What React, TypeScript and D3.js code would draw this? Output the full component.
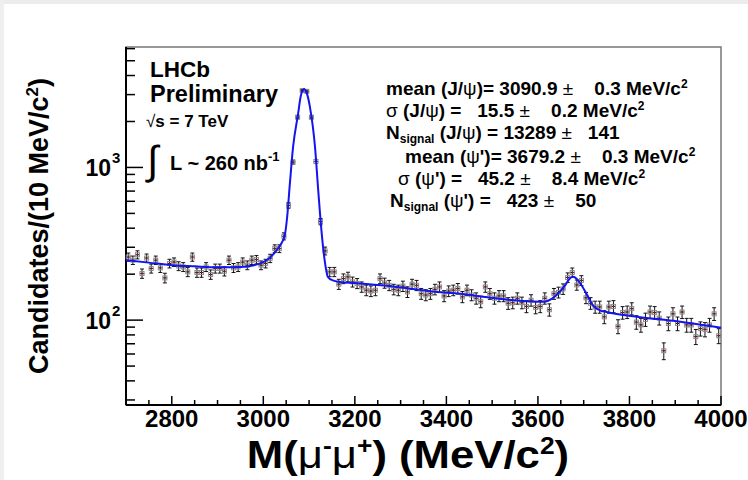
import React from 'react';
import * as d3 from 'd3';

// dimuon mass spectrum, 10 MeV bins
const massBins = d3.range(2705, 4000, 10);
const counts = [
  259, 247, 268, 202, 255, 218, 247, 220, 189, 235,
  240, 226, 223, 207, 259, 205, 205, 223, 199, 218,
  218, 209, 247, 220, 223, 240, 229, 247, 249, 229,
  235, 254, 294, 294, 354, 564, 1084, 2133, 3185, 3150,
  2133, 1094, 442, 284, 207, 207, 172, 187, 192, 178,
  174, 165, 157, 155, 157, 187, 175, 169, 159, 157,
  167, 153, 172, 169, 149, 146, 149, 159, 165, 144,
  155, 157, 161, 142, 157, 146, 139, 132, 165, 149,
  139, 144, 144, 129, 130, 139, 130, 123, 135, 121,
  123, 139, 117, 149, 152, 160, 190, 205, 170, 182,
  140, 129, 122, 122, 105, 122, 123, 91, 112, 113,
  119, 97, 93, 101, 113, 112, 103, 63, 95, 110,
  95, 113, 93, 93, 78, 88, 87, 93, 110, 79,
];

// fitted curve
const fitMass = [
  2700, 2750, 2800, 2850, 2900, 2950, 2980, 3000, 3015, 3030,
  3040, 3047, 3052, 3058, 3065, 3076, 3082, 3089, 3096, 3102,
  3113, 3120, 3127, 3134, 3141, 3152, 3167, 3200, 3270, 3380,
  3430, 3490, 3560, 3615, 3630, 3645, 3659, 3670, 3677, 3685,
  3692, 3706, 3720, 3735, 3750, 3820, 3895, 4000,
];
const fitVal = [
  247, 238, 229, 225, 222, 223, 229, 240, 257, 290,
  320, 360, 470, 780, 1358, 2244, 2950, 3266, 3000, 2477,
  1358, 707, 387, 247, 192, 182, 178, 175, 168, 153,
  149, 141, 134, 132, 138, 150, 168, 188, 192, 186,
  175, 149, 125, 116, 113, 105, 99, 89,
];

const xTicks = [2800, 3000, 3200, 3400, 3600, 3800, 4000];
const yTickExp = [2, 3];

// fit results: [value, error]
const jpsiMean = ['3090.9', '0.3'];
const jpsiSigma = ['15.5', '0.2'];
const jpsiN = ['13289', '141'];
const psi2Mean = ['3679.2', '0.3'];
const psi2Sigma = ['45.2', '8.4'];
const psi2N = ['423', '50'];

const W = 748;
const H = 480;
const frame = { left: 126, right: 721, top: 47, bottom: 405 };
const FONT = '"Liberation Sans", Arial, Helvetica, sans-serif';

export default function App() {
  const x = d3.scaleLinear().domain([2700, 4000]).range([frame.left, frame.right]);
  const y = d3.scaleLog().domain([27.8, 6150]).range([frame.bottom, frame.top]);

  const fitLine = d3.line<number>()
    .x((_, i) => x(fitMass[i]))
    .y(d => y(d))
    .curve(d3.curveMonotoneX);

  const minorX = d3.range(2700, 4001, 50).filter(v => v % 200 !== 0);
  const minorY: number[] = [];
  [10, 100, 1000].forEach(dec => {
    for (let k = 2; k <= 9; k++) {
      const v = dec * k;
      if (v >= 27.8 && v <= 6150) minorY.push(v);
    }
  });

  const FS = 19;
  const statLine = (tx: number, ty: number, parts: React.ReactNode) => (
    <text x={tx} y={ty} fontSize={FS} fontWeight="bold" fontFamily={FONT} style={{ whiteSpace: 'pre' }}>
      {parts}
    </text>
  );
  const sym = (s: string) => <tspan fontWeight="normal">{s}</tspan>;
  const sup = (s: string) => (
    <>
      <tspan dy={-7} fontSize={12}>{s}</tspan>
      <tspan dy={7}>{''}</tspan>
    </>
  );
  const sub = (s: string) => (
    <>
      <tspan dy={4} fontSize={12}>{s}</tspan>
      <tspan dy={-4}>{' '}</tspan>
    </>
  );

  return (
    <svg width={W} height={H} style={{ position: 'absolute', left: 0, top: 0, background: '#fff' }}>
      <rect x={0} y={0} width={W} height={H} fill="#fff" />
      <rect x={0} y={0} width={W} height={4} fill="#ececec" />
      <rect x={0} y={0} width={4} height={H} fill="#efefef" />

      {/* frame */}
      <rect x={frame.left} y={frame.top} width={frame.right - frame.left} height={frame.bottom - frame.top}
        fill="none" stroke="#777" strokeWidth={1.5} />
      <line x1={frame.left} x2={frame.left} y1={frame.top} y2={frame.bottom} stroke="#000" strokeWidth={2} />
      <line x1={frame.left} x2={frame.right} y1={frame.bottom} y2={frame.bottom} stroke="#000" strokeWidth={2} />

      {/* x ticks */}
      {xTicks.map(t => (
        <g key={t}>
          <line x1={x(t)} x2={x(t)} y1={frame.bottom} y2={frame.bottom - 9} stroke="#000" strokeWidth={1.5} />
          <text x={x(t)} y={427} textAnchor="middle" fontSize={24} fontWeight="bold" fontFamily={FONT}>{t}</text>
        </g>
      ))}
      {minorX.map(t => (
        <line key={t} x1={x(t)} x2={x(t)} y1={frame.bottom} y2={frame.bottom - 5} stroke="#000" strokeWidth={1.5} />
      ))}

      {/* y ticks */}
      {yTickExp.map(e => (
        <g key={e}>
          <line x1={frame.left} x2={frame.left + 17} y1={y(10 ** e)} y2={y(10 ** e)} stroke="#000" strokeWidth={1.5} />
          <text x={111} y={y(10 ** e) + 9} textAnchor="end" fontSize={23} fontWeight="bold" fontFamily={FONT}>10</text>
          <text x={112} y={y(10 ** e) - 4} fontSize={15} fontWeight="bold" fontFamily={FONT}>{e}</text>
        </g>
      ))}
      {minorY.map(v => (
        <line key={v} x1={frame.left} x2={frame.left + 9} y1={y(v)} y2={y(v)} stroke="#000" strokeWidth={1.5} />
      ))}

      {/* data points */}
      {massBins.map((m, i) => {
        const c = counts[i];
        const e = Math.sqrt(c);
        const cx = x(m);
        const cy = y(c);
        const y1 = y(c + e);
        const y2 = y(c - e);
        return (
          <g key={m}>
            <line x1={cx} x2={cx} y1={y1} y2={y2} stroke="#111" strokeWidth={1} />
            <line x1={cx - 2} x2={cx + 2} y1={y1} y2={y1} stroke="#111" strokeWidth={1} />
            <line x1={cx - 2} x2={cx + 2} y1={y2} y2={y2} stroke="#111" strokeWidth={1} />
            <line x1={x(m - 5)} x2={x(m + 5)} y1={cy} y2={cy} stroke="#111" strokeWidth={1} />
            <rect x={cx - 2} y={cy - 2} width={4} height={4} fill="none" stroke="#8a8a8a" strokeWidth={1} />
            <rect x={cx - 0.6} y={cy - 0.6} width={1.2} height={1.2} fill="#d00" />
          </g>
        );
      })}

      {/* fit */}
      <path d={fitLine(fitVal) || ''} fill="none" stroke="#1414f0" strokeWidth={2} />

      {/* labels */}
      <text x={150} y={77} fontSize={22.5} fontWeight="bold" fontFamily={FONT}>LHCb</text>
      <text x={150} y={102} fontSize={23.5} fontWeight="bold" fontFamily={FONT}>Preliminary</text>
      <text x={146} y={127} fontSize={17} fontWeight="bold" fontFamily={FONT}>
        <tspan fontWeight="normal">√</tspan>s = 7 TeV
      </text>
      <text x={147} y={174} fontSize={40} fontFamily={FONT}>∫</text>
      <text x={170} y={170} fontSize={20} fontWeight="bold" fontFamily={FONT}>
        L ~ 260 nb<tspan dy={-9} fontSize={13}>-1</tspan>
      </text>

      {statLine(386, 95, <>mean (J/{sym('ψ')})= {jpsiMean[0]} {sym('±')}    {jpsiMean[1]} MeV/c{sup('2')}</>)}
      {statLine(386, 117, <>{sym('σ')} (J/{sym('ψ')}) =   {jpsiSigma[0]} {sym('±')}    {jpsiSigma[1]} MeV/c{sup('2')}</>)}
      {statLine(386, 139, <>N{sub('signal')}(J/{sym('ψ')}) = {jpsiN[0]} {sym('±')}   {jpsiN[1]}</>)}
      {statLine(405, 163, <>mean ({sym('ψ')}')= {psi2Mean[0]} {sym('±')}    {psi2Mean[1]} MeV/c{sup('2')}</>)}
      {statLine(398, 185, <>{sym('σ')} ({sym('ψ')}') =   {psi2Sigma[0]} {sym('±')}    {psi2Sigma[1]} MeV/c{sup('2')}</>)}
      {statLine(390, 206.5, <>N{sub('signal')}({sym('ψ')}') =   {psi2N[0]} {sym('±')}    {psi2N[1]}</>)}

      {/* axis titles */}
      <text transform="translate(48,226) rotate(-90)" textAnchor="middle" fontSize={27} fontWeight="bold" fontFamily={FONT}>
        Candidates/(10 MeV/c<tspan dy={-10} fontSize={17}>2</tspan><tspan dy={10}>)</tspan>
      </text>
      <text transform="translate(408,468) scale(1.15,1)" textAnchor="middle" fontSize={38} fontWeight="bold" fontFamily={FONT}>
        M(<tspan fontWeight="normal">μ</tspan><tspan dy={-14} fontSize={23}>-</tspan><tspan dy={14} fontWeight="normal">μ</tspan><tspan dy={-14} fontSize={23}>+</tspan><tspan dy={14}>) (MeV/c</tspan><tspan dy={-14} fontSize={23}>2</tspan><tspan dy={14}>)</tspan>
      </text>
    </svg>
  );
}
